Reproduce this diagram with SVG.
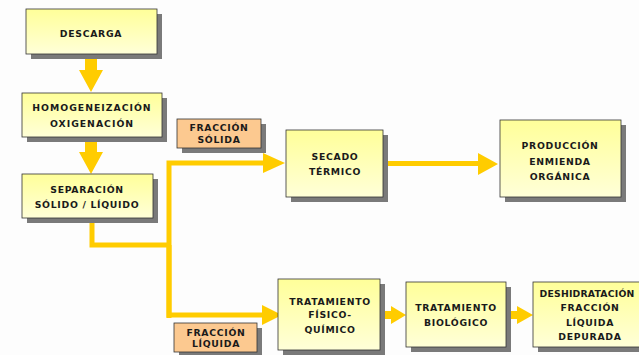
<svg xmlns="http://www.w3.org/2000/svg" width="639" height="355" viewBox="0 0 639 355">
<defs>
<linearGradient id="gy" x1="0" y1="0" x2="0" y2="1">
<stop offset="0" stop-color="#ffff99"/>
<stop offset="1" stop-color="#ffffd8"/>
</linearGradient>
<style>
.box{fill:url(#gy);stroke:#333;stroke-width:0.8}
.lab{fill:#fcc990;stroke:#333;stroke-width:0.8}
.sh{fill:#7a7a7a}
.t{font-family:"DejaVu Sans",Verdana,sans-serif;font-size:9.3px;font-weight:bold;fill:#1a1a1a;text-anchor:middle;letter-spacing:0.7px}
.tn{font-weight:600;letter-spacing:1px}
.ar{fill:#ffcc00}
.ln{fill:none;stroke:#ffcc00;stroke-width:5}
</style>
</defs>
<rect width="639" height="355" fill="#fdfdfd"/>
<g id="connectors">
<polygon class="ar" points="85,54 97,54 97,70 103,70 91,92 79,70 85,70"/>
<polygon class="ar" points="85,137 97,137 97,152 103,152 91,174 79,152 85,152"/>
<polyline class="ln" points="92,217 92,245 169,245"/>
<polyline class="ln" points="169,318 169,163 265,163"/>
<polygon class="ar" points="263,153 285,163 263,173"/>
<polyline class="ln" points="169,245 169,315 264,315"/>
<polygon class="ar" points="262,305 282,315 262,325"/>
<rect class="ar" x="383" y="161" width="97" height="5"/>
<polygon class="ar" points="478,153 498,164 478,175"/>
<polygon class="ar" points="380,311 391,311 391,306 406,315 391,324 391,319 380,319"/>
<polygon class="ar" points="506,311 517,311 517,306 533,315 517,324 517,319 506,319"/>
</g>
<g id="descarga">
<rect class="sh" x="31" y="14" width="131" height="45"/>
<rect class="box" x="26" y="9" width="131" height="45"/>
<text class="t" x="91" y="37">DESCARGA</text>
</g>
<g id="homogeneizacion">
<rect class="sh" x="27" y="98" width="140" height="44"/>
<rect class="box" x="22" y="93" width="140" height="44"/>
<text class="t tn" x="92" y="111">HOMOGENEIZACIÓN</text>
<text class="t tn" x="92" y="127">OXIGENACIÓN</text>
</g>
<g id="separacion">
<rect class="sh" x="27" y="179" width="131" height="44"/>
<rect class="box" x="22" y="174" width="131" height="44"/>
<text class="t" x="87" y="193">SEPARACIÓN</text>
<text class="t" x="87" y="208">SÓLIDO / LÍQUIDO</text>
</g>
<g id="fraccion-solida">
<rect class="sh" x="182" y="124" width="84" height="29"/>
<rect class="lab" x="177" y="119" width="84" height="29"/>
<text class="t" x="219" y="131">FRACCIÓN</text>
<text class="t" x="219" y="143">SÓLIDA</text>
</g>
<g id="secado">
<rect class="sh" x="291" y="135" width="97" height="67"/>
<rect class="box" x="286" y="130" width="97" height="67"/>
<text class="t" x="335" y="160">SECADO</text>
<text class="t" x="335" y="175">TÉRMICO</text>
</g>
<g id="produccion">
<rect class="sh" x="505" y="125" width="121" height="77"/>
<rect class="box" x="500" y="120" width="121" height="77"/>
<text class="t" x="560" y="149">PRODUCCIÓN</text>
<text class="t" x="560" y="165">ENMIENDA</text>
<text class="t" x="560" y="180">ORGÁNICA</text>
</g>
<g id="fraccion-liquida">
<rect class="sh" x="179" y="328" width="83" height="29"/>
<rect class="lab" x="174" y="323" width="83" height="29"/>
<text class="t" x="216" y="336">FRACCIÓN</text>
<text class="t" x="216" y="347">LÍQUIDA</text>
</g>
<g id="fisico-quimico">
<rect class="sh" x="283" y="284" width="102" height="71"/>
<rect class="box" x="278" y="279" width="102" height="71"/>
<text class="t" x="330" y="305">TRATAMIENTO</text>
<text class="t" x="330" y="318">FÍSICO-</text>
<text class="t" x="330" y="333">QUÍMICO</text>
</g>
<g id="biologico">
<rect class="sh" x="411" y="287" width="100" height="65"/>
<rect class="box" x="406" y="282" width="100" height="65"/>
<text class="t" x="456" y="311">TRATAMIENTO</text>
<text class="t" x="456" y="326">BIOLÓGICO</text>
</g>
<g id="deshidratacion">
<rect class="sh" x="538" y="287" width="114" height="65"/>
<rect class="box" x="533" y="282" width="114" height="65"/>
<text class="t" x="587" y="297" style="letter-spacing:0.2px">DESHIDRATACIÓN</text>
<text class="t" x="590" y="311">FRACCIÓN</text>
<text class="t" x="590" y="326">LÍQUIDA</text>
<text class="t" x="590" y="340">DEPURADA</text>
</g>
</svg>
